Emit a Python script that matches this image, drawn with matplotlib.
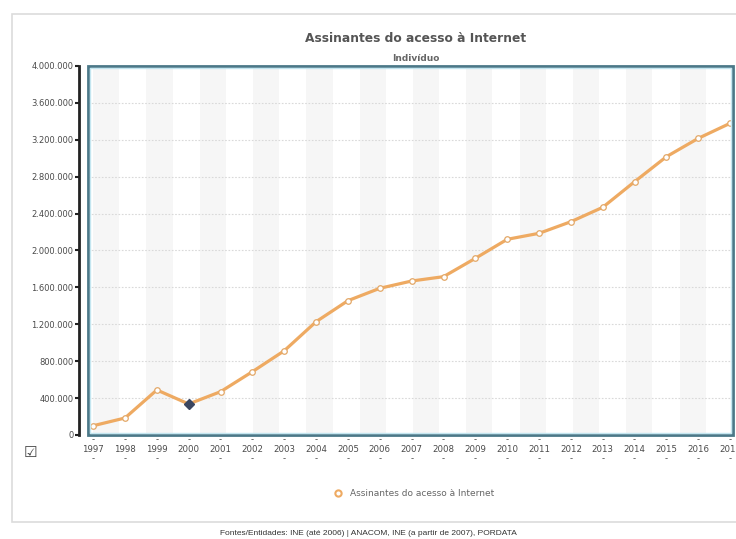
import numpy as np
import matplotlib
matplotlib.use("Agg")
from matplotlib import pyplot as plt
from matplotlib.patches import Rectangle

years = list(range(1997, 2018))
subscribers = [100000, 184000, 488000, 336000, 469000, 686000, 913000, 1228000,
               1456000, 1590000, 1669000, 1716000, 1915000, 2121000, 2186000,
               2312000, 2468000, 2746000, 3017000, 3216000, 3379000]
highlight_year = 2000
y_ticks = list(range(0, 4000001, 400000))

title = "Assinantes do acesso à Internet"
subtitle = "Indivíduo"
series_name = "Assinantes do acesso à Internet"
source = "Fontes/Entidades: INE (até 2006) | ANACOM, INE (a partir de 2007), PORDATA"

line_color = "#eeaa62"
text_color = "#4a4a4a"


def fmt_pt(v):
    return f"{v:,}".replace(",", ".")


def main():
    fig = plt.figure(figsize=(7.36, 5.39), dpi=100)

    # outer panel
    fig.patches.append(Rectangle((0.016, 0.032), 1.0, 0.942, transform=fig.transFigure,
                                 facecolor="white", edgecolor="#dcdcdc", lw=1.2,
                                 zorder=-10))

    ax = fig.add_axes([0.1196, 0.193, 0.8764, 0.6846])
    ax.set_facecolor("none")
    ax.set_xlim(1996.84, 2017.09)
    ax.set_ylim(0, 4000000)

    # background stripes
    x0 = 1997.0
    while x0 < 2017.1:
        ax.axvspan(x0, x0 + 0.82, color="#f6f6f6", lw=0, zorder=0)
        x0 += 1.674

    for t in y_ticks[1:-1]:
        ax.axhline(t, color="#d9d9d9", lw=0.8, ls=(0, (1.5, 1.5)), zorder=1)

    ax.plot(years, subscribers, color=line_color, lw=2.3, zorder=3,
            marker="o", ms=4, mfc="white", mec="#e3a868", mew=0.9,
            label=series_name)
    hi = years.index(highlight_year)
    ax.plot(years[hi], subscribers[hi], marker="D", ms=5.5, color="#3b4660", zorder=4)

    # frame
    for s in ["top", "right", "bottom"]:
        ax.spines[s].set_visible(False)
    ax.add_patch(Rectangle((0, 0), 1, 1, transform=ax.transAxes, fill=False,
                           edgecolor="#4b7888", lw=2.0, zorder=5, clip_on=False))
    ax.add_patch(Rectangle((0.003, 0.005), 0.994, 0.99, transform=ax.transAxes, fill=False,
                           edgecolor="#c4e6f0", lw=1.0, zorder=5, clip_on=False))

    ax.spines["left"].set_position(("outward", 6.5))
    ax.spines["left"].set_color("#222222")
    ax.spines["left"].set_linewidth(2)
    ax.set_yticks(y_ticks)
    ax.set_yticklabels([fmt_pt(t) for t in y_ticks])
    ax.tick_params(axis="y", length=3, width=1.5, color="#222222", labelsize=6,
                   labelcolor=text_color, pad=1)

    ax.set_xticks(years)
    ax.set_xticklabels([f"-\n{y}\n-" for y in years], linespacing=1.1)
    ax.tick_params(axis="x", length=0, labelsize=6.2, labelcolor=text_color, pad=0)

    fig.text(0.564, 0.928, title, ha="center", va="center", fontsize=8.8,
             fontweight="bold", color="#555555")
    fig.text(0.565, 0.891, subtitle, ha="center", va="center", fontsize=6.5,
             fontweight="bold", color="#666666")
    fig.text(0.041, 0.161, "\u2611", ha="center", va="center", fontsize=11,
             color="#444444")

    fig.legend(loc="center", bbox_to_anchor=(0.562, 0.085), frameon=False,
               fontsize=6.5, labelcolor="#666666", handlelength=1.0,
               handles=[plt.Line2D([], [], ls="", marker="o", ms=4.5, mfc="white",
                                   mec=line_color, mew=1.5, label=series_name)])

    fig.text(0.5, 0.011, source, ha="center", va="center", fontsize=6,
             color="#333333", family="Liberation Sans")

    fig.savefig("out.png", dpi=100)


if __name__ == '__main__':
    main()
